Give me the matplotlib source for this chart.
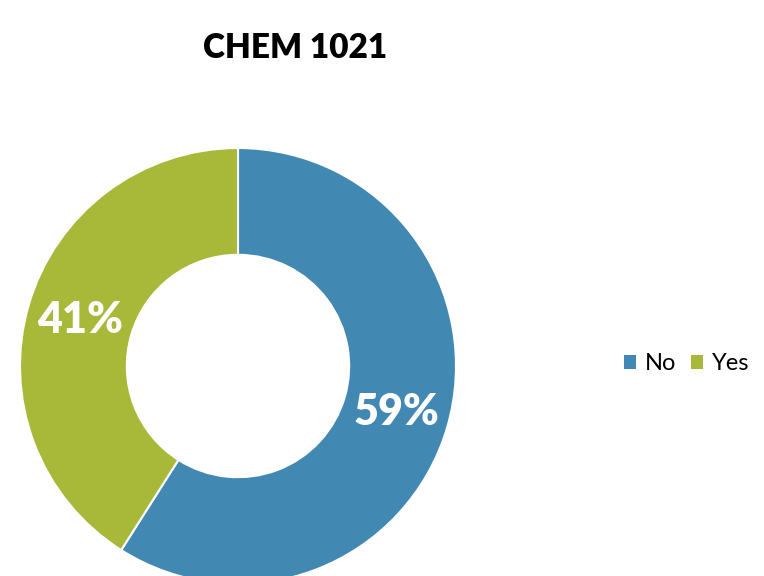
import matplotlib.pyplot as plt
from matplotlib.patches import Patch

# data
labels = ["No", "Yes"]
values = [59, 41]
colors = ["#4189B3", "#A8B838"]
title = "CHEM 1021"

plt.rcParams['font.family'] = ['Lato', 'DejaVu Sans']

fig = plt.figure(figsize=(7.64, 5.76), dpi=100)
ax = fig.add_axes([0, 0, 1, 1])

wedges, texts, autotexts = ax.pie(
    values, colors=colors, startangle=90, counterclock=False,
    radius=1, autopct=lambda p: f'{round(p)}%', pctdistance=0.755,
    wedgeprops=dict(width=0.49, edgecolor='white', linewidth=1.5),
    textprops=dict(color='white', fontsize=31, fontweight='heavy'),
)

# donut: center at (238, 366) px from top-left, radius 218 px
R = 218.0
cx, cy = 238.0, 366.0
ax.set_aspect('auto')
ax.set_xlim(-cx / R, (764 - cx) / R)
ax.set_ylim(-(576 - cy) / R, cy / R)
ax.axis('off')

fig.text(295 / 764, 1 - 48 / 576, title, ha='center', va='center',
         fontsize=24, fontweight='heavy', color='black')

handles = [Patch(facecolor=c, edgecolor='none') for c in colors]
leg = fig.legend(handles, labels, loc='center left',
                 bbox_to_anchor=(624 / 764, 1 - 364 / 576), ncol=2,
                 frameon=False, fontsize=17, handlelength=0.5,
                 handleheight=0.5, handletextpad=0.4, columnspacing=0.6,
                 borderaxespad=0, borderpad=0)

fig.savefig("out.png", dpi=100)
